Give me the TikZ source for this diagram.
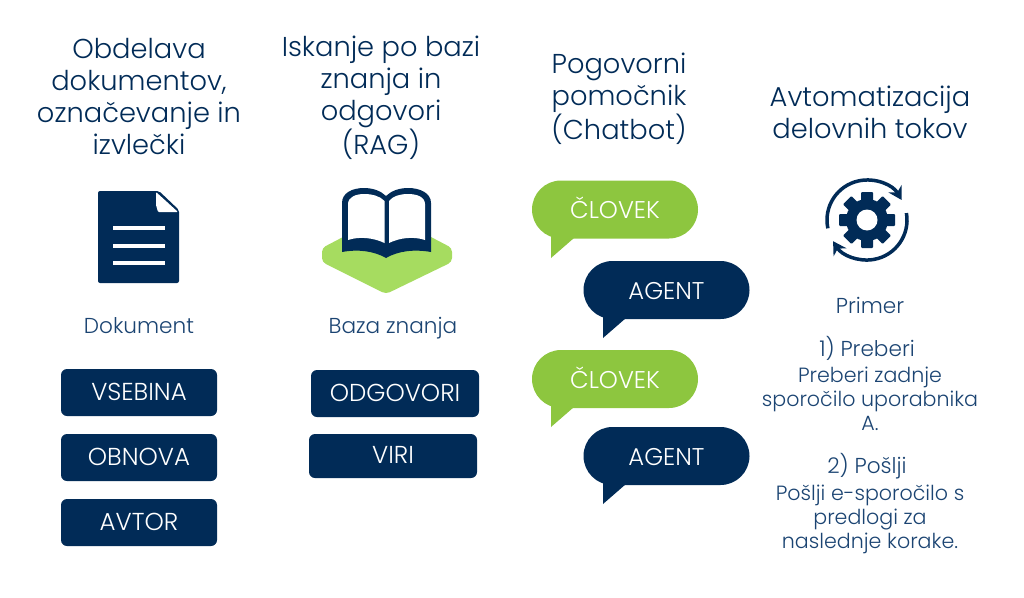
\documentclass[tikz,border=0pt]{standalone}
\usepackage{fontspec}
\setmainfont{Poppins}[UprightFont=* Light]
\usetikzlibrary{arrows.meta}
\definecolor{navy}{HTML}{012B57}
\definecolor{leaf}{HTML}{8DC63F}
\definecolor{leaflight}{HTML}{A6DC60}
\definecolor{smalltext}{HTML}{1B4472}

\begin{document}
\begin{tikzpicture}[
  x=1pt, y=-1pt,
  title/.style={align=center, text=navy, inner sep=0pt, font=\fontsize{27.3}{32.3}\selectfont},
  note/.style={align=center, text=smalltext, inner sep=0pt, font=\fontsize{20.6}{24}\selectfont},
  head/.style={note, font=\fontsize{21.6}{24}\selectfont},
  tag/.style={fill=navy, text=white, rounded corners=6pt, minimum height=47pt, inner sep=0pt, text depth=2pt, font=\fontsize{24.5}{24}\selectfont},
  bubble/.style={text=white, rounded corners=29pt, minimum width=166pt, minimum height=58pt, inner sep=0pt, font=\fontsize{24.2}{24}\selectfont},
  human/.style={bubble, fill=leaf, text depth=3pt},
  agent/.style={bubble, fill=navy, text height=19pt}
]
  \useasboundingbox (0,0) rectangle (1024,597);

  % Titles
  \node[title] (t1) at (139,96.5) {Obdelava\\dokumentov,\\označevanje in\\izvlečki};
  \node[title] (t2) at (381,97.5) {Iskanje po bazi\\znanja in\\odgovori\\(RAG)};
  \node[title] (t3) at (619,98.5) {Pogovorni\\pomočnik\\(Chatbot)};
  \node[title] (t4) at (870,112.5) {Avtomatizacija\\delovnih tokov};

  % Document
  \fill[navy, rounded corners=2pt] (98,191) -- (159,191) -- (179,210) -- (179,283) -- (98,283) -- cycle;
  \fill[white, rounded corners=1pt] (156,192) -- (156,205) -- (158,212) -- (178,212) -- cycle;
  \fill[white] (113,226) rectangle (164.5,230);
  \fill[white] (113,244) rectangle (164.5,248);
  \fill[white] (113,261) rectangle (164.5,265);
  \node[head] (doc) at (139,326) {Dokument};

  % Book
  \fill[leaflight, rounded corners=4pt] (322,248) -- (387,214) -- (452,248) -- (452,262) -- (386,294) -- (322,262) -- cycle;
  \fill[navy] (342,252) -- (342,203) .. controls (342,193) and (352,188) .. (364,188)
    .. controls (373,188) and (381,191) .. (386,196) .. controls (391,191) and (399,188) .. (408,188)
    .. controls (420,188) and (431,193) .. (431,203) -- (431,252)
    .. controls (414,249) and (398,251) .. (386,258) .. controls (374,251) and (358,249) .. (342,252) -- cycle;
  \fill[white] (348,240) -- (348,204) .. controls (348,197) and (356,194) .. (364,194)
    .. controls (372,194) and (380,196) .. (384.5,201) -- (384.5,243) .. controls (374,238) and (360,236) .. (348,240) -- cycle;
  \fill[white] (425,240) -- (425,204) .. controls (425,197) and (417,194) .. (408,194)
    .. controls (400,194) and (393,196) .. (389,201) -- (389,243) .. controls (399,238) and (413,236) .. (425,240) -- cycle;
  \node[head] (base) at (393,328) {Baza znanja};

  % Tags
  \node[tag, minimum width=156pt] (c1) at (139,392.5) {VSEBINA};
  \node[tag, minimum width=156pt] (c2) at (139,457.5) {OBNOVA};
  \node[tag, minimum width=156pt] (c3) at (139,522.5) {AVTOR};
  \node[tag, minimum width=168pt] (a1) at (395,393.5) {ODGOVORI};
  \node[tag, minimum width=168pt, minimum height=44pt] (a2) at (393,456) {VIRI};

  % Chat
  \node[human] (h1) at (615,209.5) {ČLOVEK};
  \node[agent] (g1) at (666.5,290) {AGENT};
  \node[human] (h2) at (615,379) {ČLOVEK};
  \node[agent] (g2) at (666.5,456) {AGENT};
  \fill[leaf] (551,225) -- (551,258) -- (574,238) -- cycle;
  \fill[navy] (603,305) -- (603,338) -- (626,318) -- cycle;
  \fill[leaf] (551,394) -- (551,427) -- (574,407) -- cycle;
  \fill[navy] (603,471) -- (603,504) -- (626,484) -- cycle;

  % Gear
  \coordinate (gear) at (867,220);
  \foreach \a in {0,45,90,135}
    \fill[navy, shift={(gear)}, rotate=\a, rounded corners=1pt] (-6pt,-28pt) rectangle (6pt,28pt);
  \fill[navy] (gear) circle[radius=21pt];
  \fill[white] (gear) circle[radius=10.5pt];
  \draw[navy, line width=3.5pt, -{Stealth[length=13pt,width=15pt]}] (gear) ++(192:40pt) arc[start angle=192, end angle=30, radius=40pt];
  \draw[navy, line width=3.5pt, -{Stealth[length=13pt,width=15pt]}] (gear) ++(10:40pt) arc[start angle=10, end angle=-148, radius=40pt];

  % Example text
  \node[head] (ex) at (870,305) {Primer};
  \node[head] (s1) at (867,348) {1) Preberi};
  \node[note] (d1) at (870,399) {Preberi zadnje\\sporočilo uporabnika\\A.};
  \node[head] (s2) at (867,466.5) {2) Pošlji};
  \node[note] (d2) at (870,519) {Pošlji e-sporočilo s\\predlogi za\\naslednje korake.};
\end{tikzpicture}
\end{document}
